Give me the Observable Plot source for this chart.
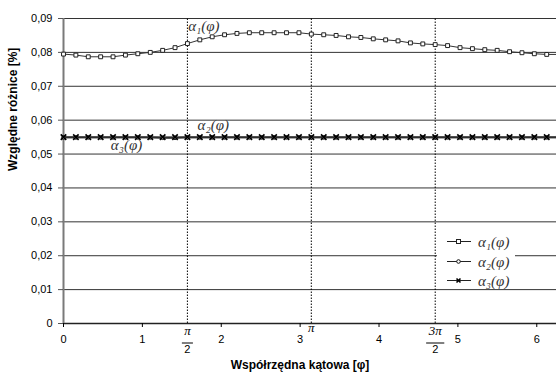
<!DOCTYPE html>
<html>
<head>
<meta charset="utf-8">
<script src="https://cdn.jsdelivr.net/npm/d3@7"></script>
<script src="https://cdn.jsdelivr.net/npm/@observablehq/plot@0.6"></script>
<style>
  html, body { margin: 0; padding: 0; background: white; }
  #wrap { position: relative; width: 556px; height: 372px; overflow: hidden; }
  #legend { position: absolute; left: 437px; top: 233px; width: 78px; height: 54px; background: white;
            font-family: "Liberation Serif", "Times New Roman", serif; font-style: italic; font-size: 15px; color: #333; }
  #legend .row { position: absolute; left: 0; height: 18px; width: 78px; }
  #legend svg { position: absolute; left: 10px; top: 4px; }
  #legend span { position: absolute; left: 41px; top: 0px; line-height: 18px; white-space: nowrap; }
</style>
</head>
<body>
<div id="wrap"><div id="legend"></div></div>
<script>
// angular coordinate (rad)
const phi = [0, 0.157, 0.314, 0.471, 0.628, 0.785, 0.942, 1.100, 1.257, 1.414,
  1.571, 1.728, 1.885, 2.042, 2.199, 2.356, 2.513, 2.670, 2.827, 2.985,
  3.142, 3.299, 3.456, 3.613, 3.770, 3.927, 4.084, 4.241, 4.398, 4.555,
  4.712, 4.869, 5.027, 5.184, 5.341, 5.498, 5.655, 5.812, 5.969, 6.126, 6.283];
const alpha1 = [0.0795, 0.0792, 0.0787, 0.0787, 0.0787, 0.0792, 0.0796, 0.0800, 0.0806, 0.0814,
  0.0826, 0.0837, 0.0846, 0.0852, 0.0856, 0.0858, 0.0858, 0.0858, 0.0858, 0.0858,
  0.0854, 0.0852, 0.0850, 0.0846, 0.0844, 0.0840, 0.0837, 0.0834, 0.0828, 0.0825,
  0.0823, 0.0820, 0.0814, 0.0811, 0.0808, 0.0806, 0.0802, 0.0799, 0.0796, 0.0794, 0.0794];
const alpha2 = [0.0549, 0.0549, 0.0549, 0.0549, 0.0549, 0.0549, 0.0549, 0.0549, 0.0548, 0.0548,
  0.0549, 0.0549, 0.0549, 0.0549, 0.0549, 0.0549, 0.0549, 0.0549, 0.0549, 0.0549,
  0.0549, 0.0549, 0.0549, 0.0549, 0.0549, 0.0549, 0.0549, 0.0549, 0.0549, 0.0549,
  0.0549, 0.0549, 0.0549, 0.0549, 0.0549, 0.0549, 0.0549, 0.0549, 0.0549, 0.0549, 0.0549];
const alpha3 = [0.0550, 0.0550, 0.0550, 0.0550, 0.0550, 0.0550, 0.0550, 0.0550, 0.0550, 0.0550,
  0.0550, 0.0550, 0.0550, 0.0550, 0.0550, 0.0550, 0.0550, 0.0550, 0.0550, 0.0550,
  0.0550, 0.0550, 0.0550, 0.0550, 0.0550, 0.0550, 0.0550, 0.0550, 0.0550, 0.0550,
  0.0550, 0.0550, 0.0550, 0.0550, 0.0550, 0.0550, 0.0550, 0.0550, 0.0550, 0.0550, 0.0550];
const yTicks = [0, 0.01, 0.02, 0.03, 0.04, 0.05, 0.06, 0.07, 0.08, 0.09];
const xTicks = [0, 1, 2, 3, 4, 5, 6];
const piLines = [Math.PI / 2, Math.PI, 3 * Math.PI / 2];
const fracLabels = [
  {x: Math.PI / 2, num: "π", den: "2", half: 0.07},
  {x: 3 * Math.PI / 2, num: "3π", den: "2", half: 0.115}
];
const seriesNames = ["α₁(φ)", "α₂(φ)", "α₃(φ)"];
const annotations = [
  {x: 1.58, y: 0.0876, text: seriesNames[0]},
  {x: 1.70, y: 0.0584, text: seriesNames[1]},
  {x: 0.60, y: 0.0527, text: seriesNames[2]}
];
const xLabel = "Współrzędna kątowa [φ]";
const yLabel = "Względne różnice [%]";

const rows = phi.map((p, i) => ({phi: p, a1: alpha1[i], a2: alpha2[i], a3: alpha3[i]}));
const fmtY = d => d === 0 ? "0" : d.toFixed(2).replace(".", ",");
const serif = "Liberation Serif, Times New Roman, serif";

const chart = Plot.plot({
  width: 556, height: 372,
  marginLeft: 63, marginRight: 0, marginTop: 18, marginBottom: 49,
  x: {domain: [0, 6.25]},
  y: {domain: [0, 0.09]},
  style: {fontFamily: "Liberation Sans, Arial, sans-serif", fontSize: "11px", background: "white", color: "black"},
  marks: [
    Plot.ruleY(yTicks.slice(1), {stroke: "#333", strokeWidth: 1}),
    Plot.ruleX(piLines, {y1: 0, y2: 0.09, stroke: "#000", strokeDasharray: "1.5,1.5", strokeWidth: 1}),
    Plot.ruleY([0], {stroke: "#222", strokeWidth: 1.5}),
    Plot.ruleX([0], {y1: 0, y2: 0.09, stroke: "#7a7a7a", strokeWidth: 2}),
    // series
    Plot.line(rows, {x: "phi", y: "a2", stroke: "#555", strokeWidth: 2.2}),
    Plot.line(rows, {x: "phi", y: "a3", stroke: "#222", strokeWidth: 1.2}),
    Plot.line(rows, {x: "phi", y: "a1", stroke: "#333", strokeWidth: 1}),
    Plot.dot(rows, {x: "phi", y: "a2", r: 1.8, symbol: "circle", fill: "white", stroke: "#111", strokeWidth: 1}),
    Plot.dot(rows, {x: "phi", y: "a3", r: 2.6, symbol: "times", stroke: "#000", strokeWidth: 1.6}),
    Plot.dot(rows, {x: "phi", y: "a1", r: 2.2, symbol: "square", fill: "white", stroke: "#222", strokeWidth: 1}),
    // annotations
    Plot.text(annotations, {x: "x", y: "y", text: "text", textAnchor: "start", fontFamily: serif,
      fontStyle: "italic", fontSize: 15, fill: "#333"}),
    // axes
    Plot.axisY({ticks: yTicks, tickFormat: fmtY, tickSize: 5, tickPadding: 6, label: null, stroke: "#555"}),
    Plot.axisX({ticks: xTicks, tickFormat: d => String(d), tickSize: 4, tickPadding: 8, label: null}),
    // fractional π labels
    Plot.text(fracLabels, {x: "x", text: "num", frameAnchor: "bottom", dy: 11, fontFamily: serif,
      fontStyle: "italic", fontSize: 13}),
    Plot.link(fracLabels, {x1: d => d.x - d.half, x2: d => d.x + d.half, y1: 0, y2: 0, dy: 19.5,
      stroke: "#000", strokeWidth: 1}),
    Plot.text(fracLabels, {x: "x", text: "den", frameAnchor: "bottom", dy: 29, fontSize: 11}),
    Plot.text([Math.PI], {x: d => d, text: () => "π", frameAnchor: "bottom", lineAnchor: "middle", dy: 4, fontFamily: serif,
      fontStyle: "italic", fontSize: 13}),
    // axis titles
    Plot.text([xLabel], {text: d => d, frameAnchor: "bottom", lineAnchor: "middle", dy: 42, dx: -10, fontWeight: "bold", fontSize: 12}),
    Plot.text([yLabel], {text: d => d, frameAnchor: "left", dx: -50, rotate: -90, fontWeight: "bold", fontSize: 12})
  ]
});
document.getElementById("wrap").prepend(chart);

// legend
const legend = document.getElementById("legend");
const symbols = [
  '<rect x="9.5" y="2.5" width="4" height="4" fill="white" stroke="#222"/>',
  '<circle cx="11.5" cy="4.5" r="1.8" fill="white" stroke="#111"/>',
  '<path d="M9.5,2.5L13.5,6.5M13.5,2.5L9.5,6.5" stroke="#000" stroke-width="1.6"/>'
];
seriesNames.forEach((name, i) => {
  const row = document.createElement("div");
  row.className = "row";
  row.style.top = (i * 19.5) + "px";
  row.innerHTML = `<svg width="24" height="9"><line x1="0" x2="24" y1="4.5" y2="4.5" stroke="#222" stroke-width="1"/>${symbols[i]}</svg><span>${name}</span>`;
  legend.appendChild(row);
});
</script>
</body>
</html>
